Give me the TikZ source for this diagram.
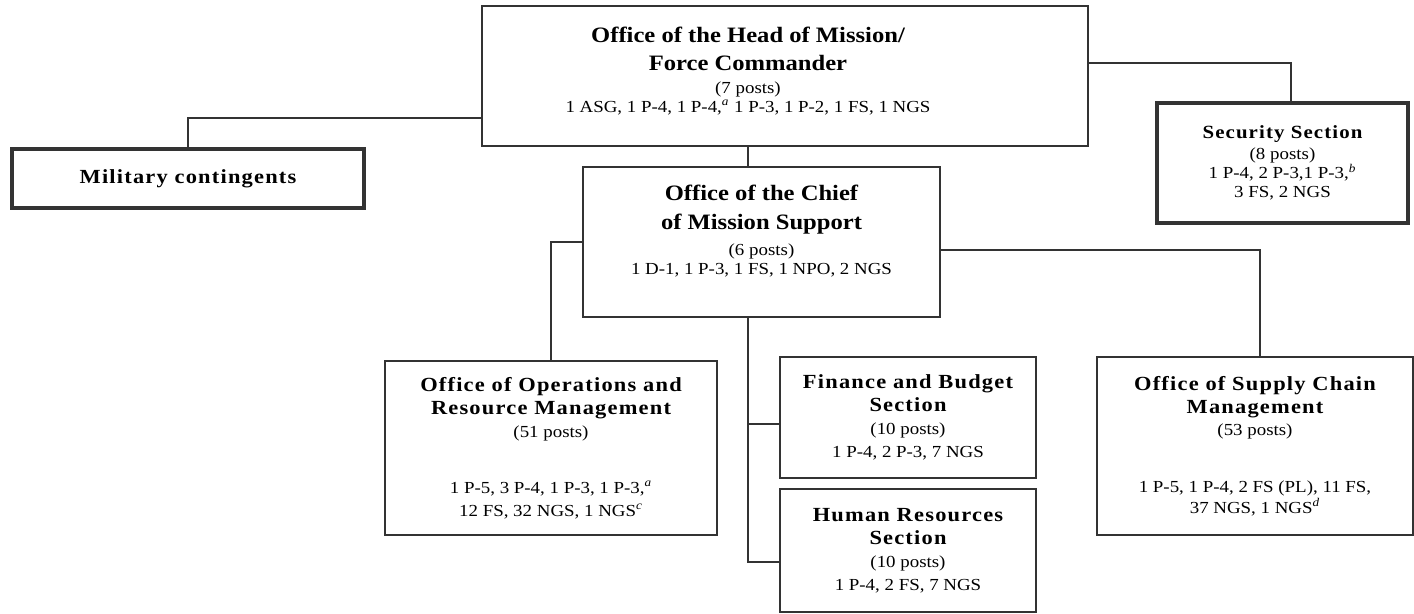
\documentclass[tikz,border=0pt]{standalone}
\usepackage{fontspec}
\setmainfont{Liberation Serif}[FakeStretch=1.12]
\newfontfamily\headfam{Liberation Serif}[FakeStretch=1.12, LetterSpace=6]
\usetikzlibrary{positioning}
\definecolor{lnk}{HTML}{333333}
\newcommand{\ttlsize}{\bfseries\fontsize{12.5}{15}\selectfont}
\newcommand{\hdsize}{\headfam\bfseries\fontsize{11.4}{13}\selectfont}
\newcommand{\bdsize}{\fontsize{9.6}{10.8}\selectfont}
\newcommand{\bdwide}{\fontsize{9.6}{13}\selectfont}
\newcommand{\fnmark}[1]{\textsuperscript{\textit{#1}}}

\begin{document}
\begin{tikzpicture}[
  unit/.style={
    draw=lnk, line width=0.8pt, align=center, inner sep=2pt, font=\bdwide
  },
  keyunit/.style={unit, line width=1.8pt, font=\bdsize},
  link/.style={draw=lnk, line width=0.8pt},
]
\useasboundingbox (0,0) rectangle (28.28,12.26);

% =============================================
% Head of Mission
% =============================================
\node[unit, minimum width=12.12cm, minimum height=2.80cm] (headbox) at (15.70,10.74) {};
\node[align=center, font=\bdsize] (head) at (14.96,10.84)
  {{\ttlsize Office of the Head of Mission/}\\[5pt]
   {\ttlsize Force Commander}\\[2pt]
   (7 posts)\\
   1 ASG, 1 P-4, 1 P-4,\fnmark{a} 1 P-3, 1 P-2, 1 FS, 1 NGS};

% Military contingents
\node[keyunit, minimum width=7.04cm, minimum height=1.18cm] (mil) at (3.76,8.69)
  {\hdsize Military contingents};

% Security Section
\node[keyunit, minimum width=5.02cm, minimum height=2.40cm] (sec) at (25.65,9.00)
  {{\hdsize\fontsize{10.6}{13}\selectfont Security Section}\\[1pt]
   (8 posts)\\
   1 P-4, 2 P-3,1 P-3,\fnmark{b}\\
   3 FS, 2 NGS};

% =============================================
% Chief of Mission Support
% =============================================
\node[unit, font=\bdsize, text depth=14pt, minimum width=7.14cm, minimum height=3.00cm] (chief) at (15.23,7.42)
  {{\ttlsize Office of the Chief}\\[6pt]
   {\ttlsize of Mission Support}\\[4pt]
   (6 posts)\\
   1 D-1, 1 P-3, 1 FS, 1 NPO, 2 NGS};

% Sections under mission support
\node[unit, minimum width=6.64cm, minimum height=3.48cm] (orm) at (11.02,3.30)
  {{\hdsize Office of Operations and}\\
   {\hdsize Resource Management}\\
   (51 posts)\\[19pt]
   1 P-5, 3 P-4, 1 P-3, 1 P-3,\fnmark{a}\\
   12 FS, 32 NGS, 1 NGS\fnmark{c}};

\node[unit, minimum width=5.12cm, minimum height=2.42cm] (fin) at (18.16,3.91)
  {{\hdsize Finance and Budget}\\
   {\hdsize Section}\\
   (10 posts)\\
   1 P-4, 2 P-3, 7 NGS};

\node[unit, minimum width=5.12cm, minimum height=2.46cm] (hr) at (18.16,1.25)
  {{\hdsize Human Resources}\\
   {\hdsize Section}\\
   (10 posts)\\
   1 P-4, 2 FS, 7 NGS};

\node[unit, minimum width=6.32cm, minimum height=3.56cm] (supply) at (25.10,3.34)
  {{\hdsize Office of Supply Chain}\\
   {\hdsize Management}\\
   (53 posts)\\[19pt]
   1 P-5, 1 P-4, 2 FS (PL), 11 FS,\\[-1pt]
   37 NGS, 1 NGS\fnmark{d}};

% =============================================
% Connectors
% =============================================
\draw[link] ([yshift=-0.84cm]headbox.west) -| (mil.north);
\draw[link] ([yshift=0.26cm]headbox.east) -| ([xshift=0.17cm]sec.north);
\draw[link, line width=1.4pt] (headbox.south -| head) -- (chief.north -| head);

\draw[link] (chief.west) -| (orm.north);
\draw[link] ([yshift=-0.16cm]chief.east) -| ([xshift=0.1cm]supply.north);
\draw[link] (chief.south -| head) |- ([yshift=-0.23cm]hr.west);
\draw[link] ([yshift=-0.13cm]fin.west) -| (chief.south -| head);

\end{tikzpicture}
\end{document}
